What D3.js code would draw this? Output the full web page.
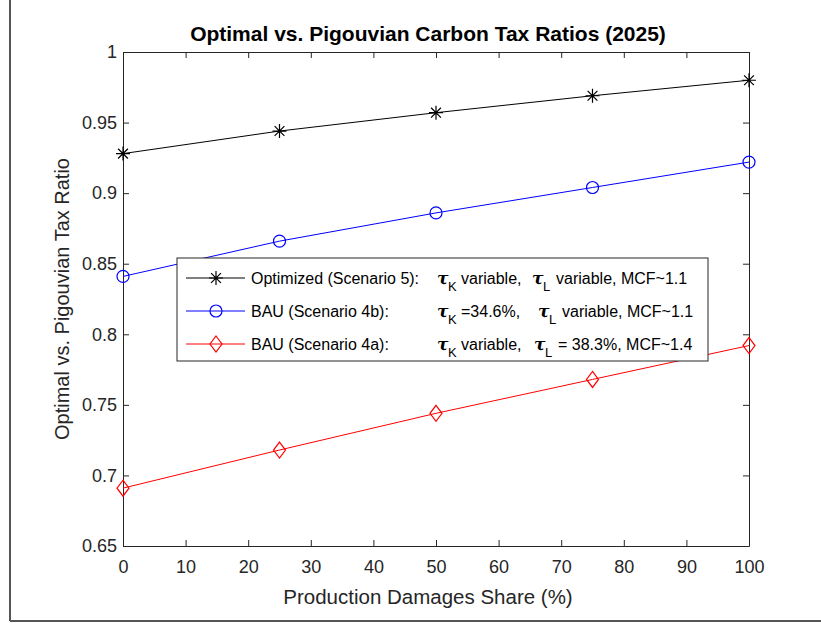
<!DOCTYPE html>
<html>
<head>
<meta charset="utf-8">
<script src="https://cdn.jsdelivr.net/npm/d3@7"></script>
<style>
  body { margin: 0; background: #fff; }
  svg { display: block; font-family: "Liberation Sans", Arial, sans-serif; }
</style>
</head>
<body>
<script>
// Datos del gráfico
const shares = [0, 25, 50, 75, 100];
const optimized = [0.928, 0.944, 0.957, 0.969, 0.980];
const bau4b = [0.841, 0.866, 0.886, 0.904, 0.922];
const bau4a = [0.691, 0.718, 0.744, 0.768, 0.792];
const xTicks = [0, 10, 20, 30, 40, 50, 60, 70, 80, 90, 100];
const yTicks = [0.65, 0.7, 0.75, 0.8, 0.85, 0.9, 0.95, 1];
const seriesNames = ["Optimized (Scenario 5):", "BAU (Scenario 4b):", "BAU (Scenario 4a):"];
const legendK = ["variable,", "=34.6%,", "variable,"];
const legendL = ["variable, MCF~1.1", "variable, MCF~1.1", "= 38.3%, MCF~1.4"];

const W = 821, H = 623;
const margin = { left: 123, right: 72, top: 52, bottom: 77 };
const axisColor = "#262626";

const svg = d3.select("body").append("svg").attr("width", W).attr("height", H);

// Marco de la figura
svg.append("line").attr("x1", 10).attr("y1", 0).attr("x2", 10).attr("y2", 621)
  .attr("stroke", "#555").attr("stroke-width", 2);
svg.append("line").attr("x1", 10).attr("y1", 621).attr("x2", W).attr("y2", 621)
  .attr("stroke", "#555").attr("stroke-width", 2);

const x = d3.scaleLinear().domain([0, 100]).range([margin.left, W - margin.right]);
const y = d3.scaleLinear().domain([0.65, 1]).range([H - margin.bottom, margin.top]);

const fmt = d => String(+d.toFixed(2));

// Ejes (ticks hacia adentro, caja completa)
const gx = svg.append("g").attr("transform", `translate(0,${y(0.65)})`)
  .call(d3.axisBottom(x).tickValues(xTicks).tickFormat(fmt).tickSizeInner(-6).tickSizeOuter(0).tickPadding(14));
const gy = svg.append("g").attr("transform", `translate(${x(0)},0)`)
  .call(d3.axisLeft(y).tickValues(yTicks).tickFormat(fmt).tickSizeInner(-6).tickSizeOuter(0).tickPadding(6));
const gt = svg.append("g").attr("transform", `translate(0,${y(1)})`)
  .call(d3.axisTop(x).tickValues(xTicks).tickFormat("").tickSizeInner(-6).tickSizeOuter(0));
const gr = svg.append("g").attr("transform", `translate(${x(100)},0)`)
  .call(d3.axisRight(y).tickValues(yTicks).tickFormat("").tickSizeInner(-6).tickSizeOuter(0));

[gx, gy, gt, gr].forEach(g => {
  g.select(".domain").attr("stroke", axisColor);
  g.selectAll(".tick line").attr("stroke", axisColor);
  g.selectAll(".tick text").attr("fill", axisColor).style("font-size", "18px")
    .style("font-family", "'Liberation Sans', Arial, sans-serif");
});

// Título y etiquetas
svg.append("text").attr("x", 428).attr("y", 41)
  .attr("text-anchor", "middle").attr("font-weight", "bold").attr("font-size", 21)
  .text("Optimal vs. Pigouvian Carbon Tax Ratios (2025)");
svg.append("text").attr("x", 428).attr("y", 604)
  .attr("text-anchor", "middle").attr("font-size", 20.5).attr("fill", axisColor)
  .text("Production Damages Share (%)");
svg.append("text").attr("transform", `translate(69,${(y(0.65) + y(1)) / 2}) rotate(-90)`)
  .attr("text-anchor", "middle").attr("font-size", 20).attr("fill", axisColor)
  .text("Optimal vs. Pigouvian Tax Ratio");

const series = [
  { vals: optimized, color: "#000000", marker: "star" },
  { vals: bau4b, color: "#0000ff", marker: "circle" },
  { vals: bau4a, color: "#ff0000", marker: "diamond" }
];

const line = d3.line().x(d => x(d[0])).y(d => y(d[1]));

function drawMarker(g, type, color) {
  if (type === "star") {
    const r = 7;
    g.append("path")
      .attr("d", `M${-r},0H${r}M0,${-r}V${r}M${-r * 0.7},${-r * 0.7}L${r * 0.7},${r * 0.7}M${-r * 0.7},${r * 0.7}L${r * 0.7},${-r * 0.7}`)
      .attr("stroke", color).attr("stroke-width", 1.2).attr("fill", "none");
  } else if (type === "circle") {
    g.append("circle").attr("r", 6).attr("stroke", color).attr("stroke-width", 1.2).attr("fill", "none");
  } else {
    g.append("path").attr("d", "M0,-8L6,0L0,8L-6,0Z")
      .attr("stroke", color).attr("stroke-width", 1.2).attr("fill", "none");
  }
}

series.forEach(s => {
  const pts = shares.map((v, i) => [v, s.vals[i]]);
  svg.append("path").datum(pts).attr("d", line)
    .attr("fill", "none").attr("stroke", s.color).attr("stroke-width", 1);
  svg.selectAll(null).data(pts).enter().append("g")
    .attr("transform", d => `translate(${x(d[0])},${y(d[1])})`)
    .each(function () { drawMarker(d3.select(this), s.marker, s.color); });
});

// Leyenda
const leg = svg.append("g");
leg.append("rect").attr("x", 177).attr("y", 258).attr("width", 531).attr("height", 103)
  .attr("fill", "#fff").attr("stroke", axisColor).attr("stroke-width", 1);
const rowY = [278, 311, 344];
const tauX = [[437, 532], [437, 538], [437, 534]];
series.forEach((s, i) => {
  const ry = rowY[i];
  leg.append("line").attr("x1", 186).attr("x2", 245).attr("y1", ry).attr("y2", ry)
    .attr("stroke", s.color).attr("stroke-width", 1);
  drawMarker(leg.append("g").attr("transform", `translate(216,${ry})`), s.marker, s.color);
  const ty = ry + 6;
  leg.append("text").attr("x", 251).attr("y", ty).attr("font-size", 16).attr("fill", "#000").text(seriesNames[i]);
  [0, 1].forEach(j => {
    const tx = tauX[i][j];
    leg.append("text").attr("x", tx).attr("y", ty)
      .attr("font-family", "'DejaVu Serif', serif").attr("font-style", "italic").attr("font-weight", "bold")
      .attr("font-size", 17).text("τ");
    leg.append("text").attr("x", tx + 11).attr("y", ty + 7).attr("font-size", 13).text(j === 0 ? "K" : "L");
    leg.append("text").attr("x", tx + 24).attr("y", ty).attr("font-size", 16)
      .text(j === 0 ? legendK[i] : legendL[i]);
  });
});
</script>
</body>
</html>
